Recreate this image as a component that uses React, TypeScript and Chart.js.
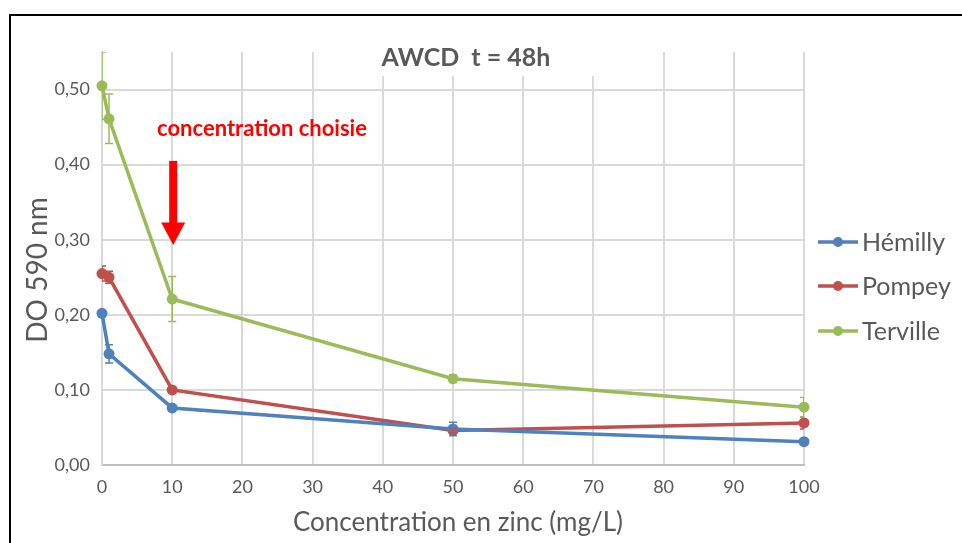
import React, { useEffect, useRef } from 'react';
import { Chart, registerables } from 'chart.js';

Chart.register(...registerables);

// ---- data ----
const concentrations = [0, 1, 10, 50, 100];
const seriesNames = ['Hémilly', 'Pompey', 'Terville'];
const seriesColors = ['#4f81bd', '#c0504d', '#9bbb59'];
const hemilly = [0.202, 0.148, 0.076, 0.048, 0.031];
const pompey = [0.255, 0.25, 0.1, 0.046, 0.056];
const terville = [0.505, 0.461, 0.221, 0.115, 0.077];
const hemillyErr = [0.0, 0.012, 0.004, 0.009, 0.003];
const pompeyErr = [0.01, 0.008, 0.004, 0.003, 0.008];
const tervilleErr = [0.045, 0.033, 0.03, 0.005, 0.013];
const yMax = 0.55;
const yStep = 0.1;
const xStep = 10;

const titleText = 'AWCD  t = 48h';
const xTitle = 'Concentration en zinc (mg/L)';
const yTitle = 'DO 590 nm';
const annotationText = 'concentration choisie';
const arrowX = 10;
const arrowTop = 0.405;
const arrowHeadBase = 0.323;
const arrowTip = 0.293;

const FONT = 'Lato, "Open Sans", sans-serif';
const GREY = '#595959';

const allValues = [hemilly, pompey, terville];
const allErrors = [hemillyErr, pompeyErr, tervilleErr];

const errorBarsPlugin = {
  id: 'errorBars',
  afterDatasetsDraw(chart: any) {
    const ctx = chart.ctx;
    const xs = chart.scales.x;
    const ys = chart.scales.y;
    const ca = chart.chartArea;
    ctx.save();
    ctx.beginPath();
    ctx.rect(ca.left, ca.top, ca.right - ca.left, ca.bottom - ca.top);
    ctx.clip();
    allValues.forEach((vals, si) => {
      ctx.strokeStyle = seriesColors[si];
      ctx.lineWidth = 1.5;
      vals.forEach((v, i) => {
        const e = allErrors[si][i];
        if (!e) return;
        const px = xs.getPixelForValue(concentrations[i]);
        const pt = ys.getPixelForValue(v + e);
        const pb = ys.getPixelForValue(v - e);
        ctx.beginPath();
        ctx.moveTo(px, pt);
        ctx.lineTo(px, pb);
        ctx.moveTo(px - 4, pt);
        ctx.lineTo(px + 4, pt);
        ctx.moveTo(px - 4, pb);
        ctx.lineTo(px + 4, pb);
        ctx.stroke();
      });
    });
    ctx.restore();

    // arrow
    const ax = xs.getPixelForValue(arrowX);
    const aTop = ys.getPixelForValue(arrowTop);
    const aBase = ys.getPixelForValue(arrowHeadBase);
    const aTip = ys.getPixelForValue(arrowTip);
    ctx.save();
    ctx.fillStyle = '#ff0000';
    ctx.fillRect(ax - 3, aTop, 8, aBase - aTop + 1);
    ctx.beginPath();
    ctx.moveTo(ax - 11, aBase);
    ctx.lineTo(ax + 13, aBase);
    ctx.lineTo(ax + 1, aTip);
    ctx.closePath();
    ctx.fill();
    ctx.restore();
  },
};

const overlayPlugin = {
  id: 'overlay',
  afterDraw(chart: any) {
    const ctx = chart.ctx;
    const ca = chart.chartArea;
    ctx.save();
    // frame
    ctx.strokeStyle = '#000';
    ctx.lineWidth = 2;
    ctx.beginPath();
    ctx.moveTo(10, 545);
    ctx.lineTo(10, 15);
    ctx.lineTo(965, 15);
    ctx.stroke();

    // title with white box
    ctx.font = `bold 25px ${FONT}`;
    const tw = ctx.measureText(titleText).width;
    ctx.fillStyle = '#fff';
    ctx.fillRect(466 - tw / 2 - 60, ca.top - 1, tw + 120, 77 - ca.top);
    ctx.fillStyle = GREY;
    ctx.textAlign = 'center';
    ctx.textBaseline = 'middle';
    ctx.fillText(titleText, 466, 58);

    // annotation
    ctx.font = `bold 22px ${FONT}`;
    ctx.fillStyle = '#ff0000';
    ctx.fillText(annotationText, 262, 129);

    // axis titles
    ctx.font = `26px ${FONT}`;
    ctx.fillStyle = GREY;
    ctx.fillText(xTitle, 458, 523);
    ctx.save();
    ctx.font = `28px ${FONT}`;
    ctx.translate(38, 270);
    ctx.rotate(-Math.PI / 2);
    ctx.fillText(yTitle, 0, 0);
    ctx.restore();

    // legend
    const legendY = [242, 286, 331];
    seriesNames.forEach((name, i) => {
      const y = legendY[i];
      ctx.strokeStyle = seriesColors[i];
      ctx.lineWidth = 3.5;
      ctx.beginPath();
      ctx.moveTo(818, y);
      ctx.lineTo(858, y);
      ctx.stroke();
      ctx.fillStyle = seriesColors[i];
      ctx.beginPath();
      ctx.arc(838, y, 5, 0, Math.PI * 2);
      ctx.fill();
      ctx.fillStyle = GREY;
      ctx.textAlign = 'left';
      ctx.font = `25px ${FONT}`;
      ctx.fillText(name, 862, y + 1);
    });
    ctx.restore();
  },
};

export default function App() {
  const ref = useRef<HTMLCanvasElement>(null);
  useEffect(() => {
    if (!ref.current) return;
    const datasets = allValues.map((vals, si) => ({
      label: seriesNames[si],
      data: vals.map((v, i) => ({ x: concentrations[i], y: v })),
      borderColor: seriesColors[si],
      backgroundColor: seriesColors[si],
      borderWidth: 3.5,
      pointRadius: 5.5,
      pointHoverRadius: 5.5,
      pointBorderWidth: 0,
      showLine: true,
      tension: 0,
      clip: false as any,
    }));
    const chart = new Chart(ref.current, {
      type: 'scatter',
      data: { datasets },
      options: {
        animation: false,
        responsive: false,
        devicePixelRatio: 1,
        layout: { padding: { left: 0, top: 52, right: 158, bottom: 0 } },
        plugins: {
          legend: { display: false },
          tooltip: { enabled: false },
          title: { display: false },
        },
        scales: {
          x: {
            type: 'linear',
            min: 0,
            max: 100,
            ticks: {
              stepSize: xStep,
              color: GREY,
              font: { family: FONT, size: 18 },
              padding: 11,
            },
            grid: { color: '#d9d9d9', lineWidth: 2, drawTicks: false },
            border: { color: '#bfbfbf', width: 2 },
            afterFit(scale: any) {
              scale.height = 78;
            },
          },
          y: {
            type: 'linear',
            min: 0,
            max: yMax,
            ticks: {
              stepSize: yStep,
              color: GREY,
              font: { family: FONT, size: 18 },
              padding: 12,
              callback(value: any) {
                const v = Number(value);
                if (v > 0.5 + 1e-6) return null as any;
                return v.toFixed(2).replace('.', ',');
              },
            },
            grid: { color: '#d9d9d9', lineWidth: 2, drawTicks: false },
            border: { color: '#d9d9d9', width: 2 },
            afterFit(scale: any) {
              scale.width = 102;
            },
          },
        },
      },
      plugins: [errorBarsPlugin, overlayPlugin],
    });
    return () => chart.destroy();
  }, []);
  return (
    <div style={{ position: 'fixed', left: 0, top: 0, width: 962, height: 543, background: '#fff' }}>
      <canvas ref={ref} width={962} height={543} />
    </div>
  );
}
